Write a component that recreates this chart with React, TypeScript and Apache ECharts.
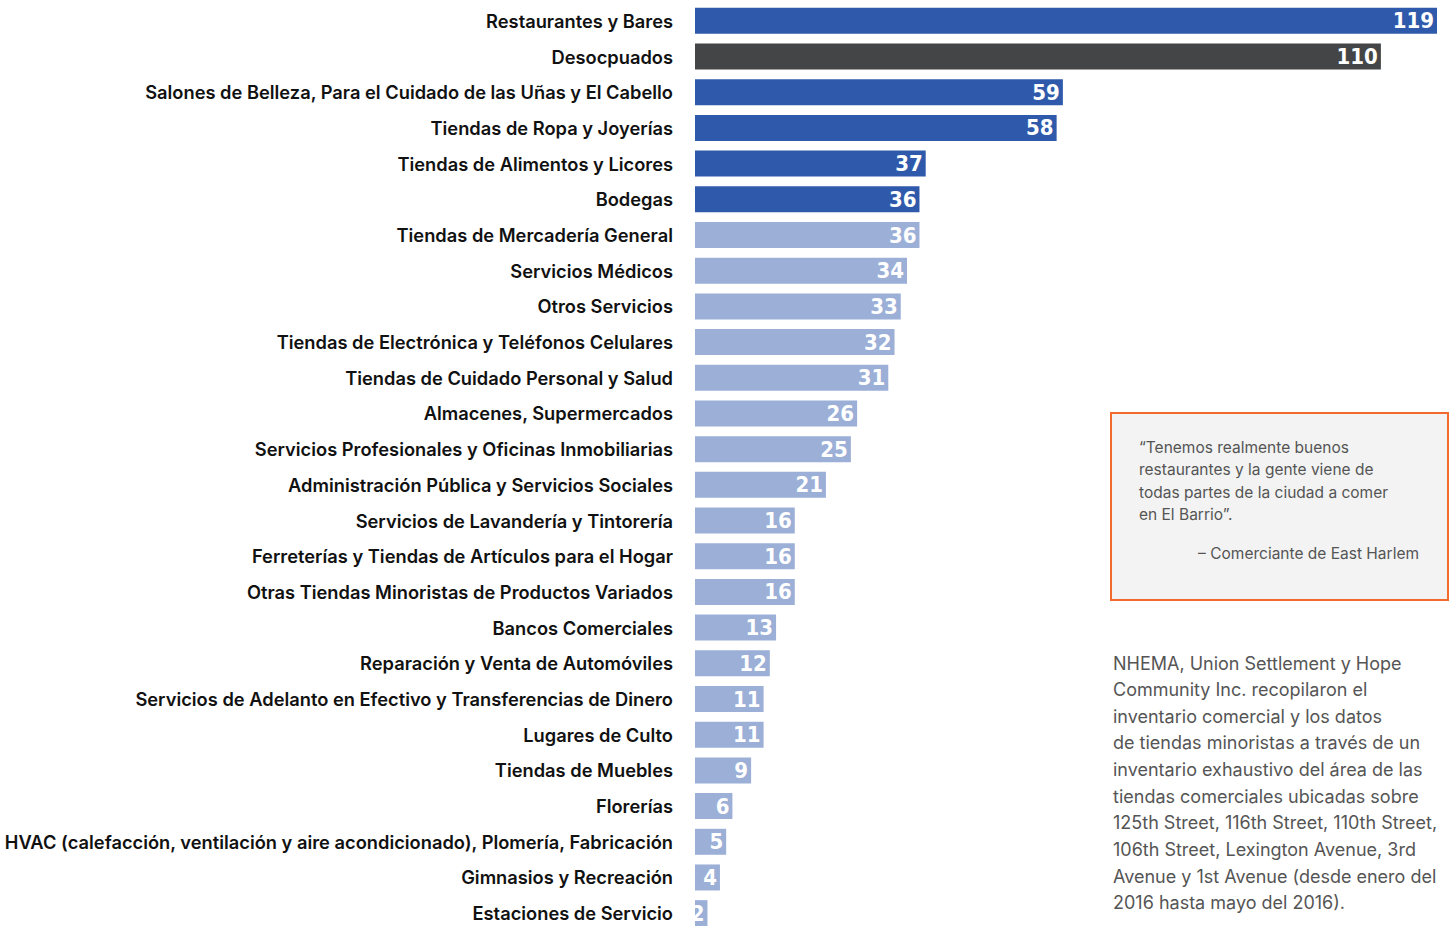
import React, { useEffect, useRef } from "react";
import * as echarts from "echarts";

const categories = [
  "Restaurantes y Bares",
  "Desocpuados",
  "Salones de Belleza, Para el Cuidado de las Uñas y El Cabello",
  "Tiendas de Ropa y Joyerías",
  "Tiendas de Alimentos y Licores",
  "Bodegas",
  "Tiendas de Mercadería General",
  "Servicios Médicos",
  "Otros Servicios",
  "Tiendas de Electrónica y Teléfonos Celulares",
  "Tiendas de Cuidado Personal y Salud",
  "Almacenes, Supermercados",
  "Servicios Profesionales y Oficinas Inmobiliarias",
  "Administración Pública y Servicios Sociales",
  "Servicios de Lavandería y Tintorería",
  "Ferreterías y Tiendas de Artículos para el Hogar",
  "Otras Tiendas Minoristas de Productos Variados",
  "Bancos Comerciales",
  "Reparación y Venta de Automóviles",
  "Servicios de Adelanto en Efectivo y Transferencias de Dinero",
  "Lugares de Culto",
  "Tiendas de Muebles",
  "Florerías",
  "HVAC (calefacción, ventilación y aire acondicionado), Plomería, Fabricación",
  "Gimnasios y Recreación",
  "Estaciones de Servicio",
];

const values = [119, 110, 59, 58, 37, 36, 36, 34, 33, 32, 31, 26, 25, 21, 16, 16, 16, 13, 12, 11, 11, 9, 6, 5, 4, 2];

// colour group per bar: "top" = dark blue, "vacant" = gray, "rest" = light blue
const groups = ["top", "vacant", "top", "top", "top", "top", "rest", "rest", "rest", "rest", "rest", "rest", "rest", "rest", "rest", "rest", "rest", "rest", "rest", "rest", "rest", "rest", "rest", "rest", "rest", "rest"];

const quoteLines = [
  "“Tenemos realmente buenos",
  "restaurantes y la gente viene de",
  "todas partes de la ciudad a comer",
  "en El Barrio”.",
];
const quoteAuthor = "– Comerciante de East Harlem";

const noteLines = [
  "NHEMA, Union Settlement y Hope",
  "Community Inc. recopilaron el",
  "inventario comercial y los datos",
  "de tiendas minoristas a través de un",
  "inventario exhaustivo del área de las",
  "tiendas comerciales ubicadas sobre",
  "125th Street, 116th Street, 110th Street,",
  "106th Street, Lexington Avenue, 3rd",
  "Avenue y 1st Avenue (desde enero del",
  "2016 hasta mayo del 2016).",
];

const colorMap: Record<string, string> = {
  top: "#2F5AAB",
  vacant: "#444546",
  rest: "#9BAFD7",
};

export default function App() {
  const ref = useRef<HTMLDivElement>(null);
  useEffect(() => {
    if (!ref.current) return;
    const chart = echarts.init(ref.current, undefined, { renderer: "svg" });
    const graphics: any[] = [
      {
        type: "rect",
        shape: { x: 1111, y: 413, width: 337, height: 187 },
        style: { fill: "#F2F3F2", stroke: "#F26A2C", lineWidth: 2 },
      },
    ];
    quoteLines.forEach((t, i) => {
      graphics.push({
        type: "text",
        x: 1139,
        y: 447 + i * 22.5,
        style: {
          text: t,
          fill: "#555555",
          font: "400 15.5px Inter, 'Noto Sans', sans-serif",
          verticalAlign: "middle",
        },
      });
    });
    graphics.push({
      type: "text",
      x: 1419,
      y: 553,
      style: {
        text: quoteAuthor,
        fill: "#555555",
        font: "400 15.5px Inter, 'Noto Sans', sans-serif",
        align: "right",
        verticalAlign: "middle",
      },
    });
    noteLines.forEach((t, i) => {
      graphics.push({
        type: "text",
        x: 1113,
        y: 663 + i * 26.65,
        style: {
          text: t,
          fill: "#555555",
          font: "400 18px Inter, 'Noto Sans', sans-serif",
          verticalAlign: "middle",
        },
      });
    });

    chart.setOption({
      animation: false,
      grid: {
        left: 695,
        width: 742,
        top: 3,
        height: 928,
        containLabel: false,
        outerBoundsMode: "none",
      },
      xAxis: {
        type: "value",
        min: 0,
        max: 119,
        show: false,
      },
      yAxis: {
        type: "category",
        inverse: true,
        data: categories,
        axisLine: { show: false },
        axisTick: { show: false },
        splitLine: { show: false },
        axisLabel: {
          margin: 22,
          color: "#111111",
          fontFamily: "Inter, 'Noto Sans', sans-serif",
          fontWeight: 600,
          fontSize: 18.3,
        },
      },
      series: [
        {
          type: "bar",
          barWidth: 26,
          data: values.map((v, i) => ({
            value: v,
            itemStyle: { color: colorMap[groups[i]] },
          })),
          label: {
            show: true,
            position: "insideRight",
            distance: 3,
            color: "#FFFFFF",
            fontFamily: "'DejaVu Sans Condensed', 'Liberation Sans Narrow', sans-serif",
            fontWeight: "bold",
            fontSize: 22,
          },
        },
      ],
      graphic: graphics,
    });
    return () => chart.dispose();
  }, []);
  return (
    <div
      ref={ref}
      style={{ position: "absolute", left: 0, top: 0, width: 1450, height: 926, background: "#ffffff" }}
    />
  );
}
